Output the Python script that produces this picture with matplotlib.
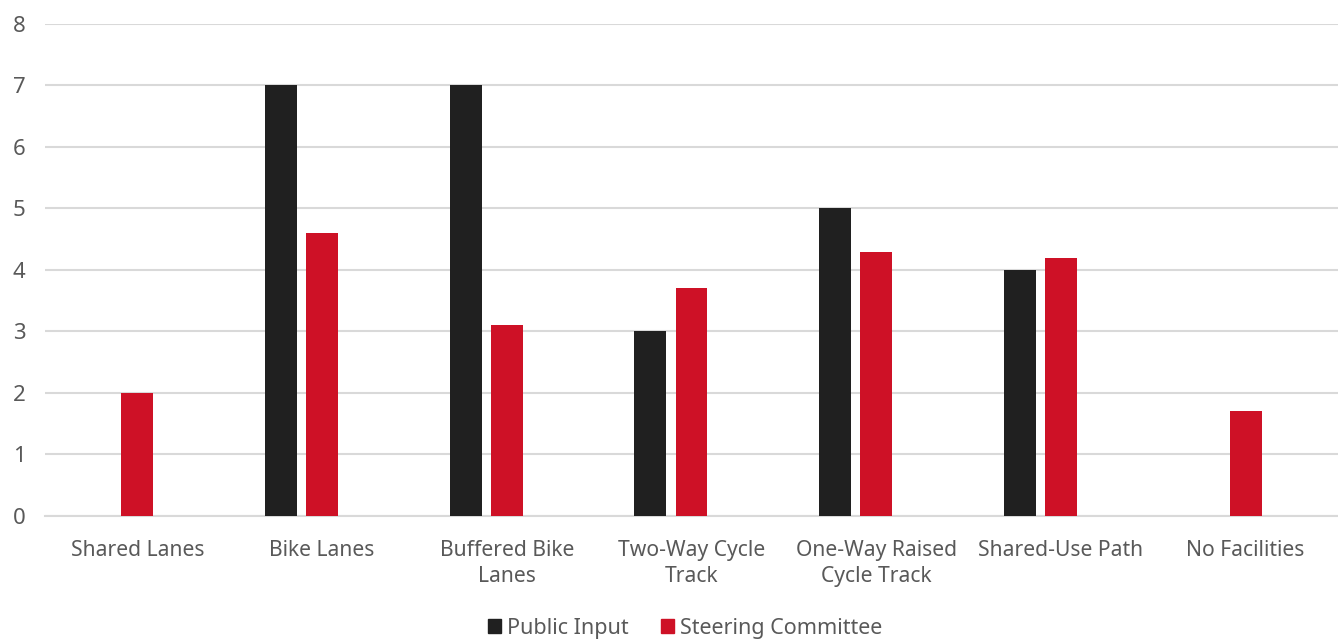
import numpy as np
import matplotlib
matplotlib.use("Agg")
import matplotlib.pyplot as plt
from matplotlib.patches import Patch

categories = ["Shared Lanes", "Bike Lanes", "Buffered Bike\nLanes", "Two-Way Cycle\nTrack",
              "One-Way Raised\nCycle Track", "Shared-Use Path", "No Facilities"]
public_input = [0, 7, 7, 3, 5, 4, 0]
steering_committee = [2, 4.6, 3.1, 3.7, 4.3, 4.2, 1.7]
yticks = [0, 1, 2, 3, 4, 5, 6, 7, 8]

plt.rcParams['font.family'] = ['Noto Sans', 'DejaVu Sans']
text_color = '#595959'
grid_color = '#d9d9d9'

fig = plt.figure(figsize=(13.38, 6.39), dpi=100)
ax = fig.add_axes([0.0336, 0.1925, 0.9664, 0.77])

x = np.arange(len(categories))
width = 0.173
ax.bar(x - 0.222, public_input, width, color='#202020', label='Public Input', zorder=3)
ax.bar(x, steering_committee, width, color='#ce1126', label='Steering Committee', zorder=3)

ax.set_xlim(-0.5, len(categories) - 0.5)
ax.set_ylim(0, 8)
ax.set_yticks(yticks)
ax.set_xticks(x)
ax.set_xticklabels(categories, fontsize=15.2, color=text_color, linespacing=1.35)
ax.tick_params(axis='y', labelsize=16, colors=text_color, length=0, pad=14)
ax.tick_params(axis='x', length=0, pad=17)
ax.yaxis.grid(True, color=grid_color, linewidth=1.5, zorder=0)
for side in ['top', 'right', 'left']:
    ax.spines[side].set_visible(False)
ax.spines['bottom'].set_color(grid_color)
ax.spines['bottom'].set_linewidth(1.5)

handles = [Patch(color='#202020', label='Public Input'),
           Patch(color='#ce1126', label='Steering Committee')]
fig.legend(handles=handles, loc='lower center', bbox_to_anchor=(0.512, -0.03), ncol=2,
           frameon=False, fontsize=15.5, labelcolor=text_color, handlelength=0.6,
           handleheight=0.6, handletextpad=0.3, columnspacing=1.5)

fig.savefig("out.png", dpi=100)
